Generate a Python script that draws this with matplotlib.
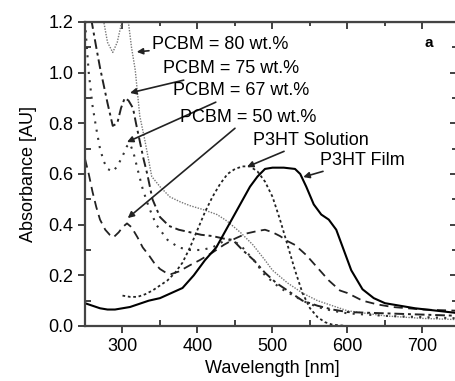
import numpy as np
import matplotlib
matplotlib.use('Agg')
import matplotlib.pyplot as plt
from matplotlib.ticker import MultipleLocator

plt.rcParams['font.family'] = ['Liberation Sans', 'DejaVu Sans']

# P3HT film (solid)
film_x = [250, 260, 270, 280, 290, 300, 310, 320, 335, 350, 365, 380, 395, 410, 425, 440, 455, 470, 480,
          490, 500, 515, 530, 537, 545, 555, 565, 575, 585, 595, 605, 620, 635, 650, 670, 690, 720, 750]
film_y = [0.09, 0.08, 0.07, 0.065, 0.065, 0.07, 0.075, 0.085, 0.10, 0.11, 0.13, 0.15, 0.20, 0.26, 0.31, 0.39,
          0.47, 0.55, 0.59, 0.62, 0.625, 0.625, 0.62, 0.60, 0.55, 0.48, 0.44, 0.42, 0.38, 0.30, 0.22, 0.145,
          0.11, 0.09, 0.08, 0.07, 0.06, 0.05]

# P3HT solution
sol_x = [300, 310, 320, 330, 340, 350, 360, 370, 380, 390, 400, 410, 420, 430, 440, 450, 460, 470, 480,
         490, 500, 510, 520, 530, 540, 550, 560, 570, 580, 600, 650, 700, 750]
sol_y = [0.12, 0.115, 0.115, 0.125, 0.14, 0.16, 0.18, 0.21, 0.25, 0.31, 0.38, 0.45, 0.51, 0.56, 0.60, 0.62,
         0.63, 0.63, 0.61, 0.57, 0.51, 0.42, 0.32, 0.22, 0.13, 0.07, 0.035, 0.015, 0.005, 0.0, 0.0, 0.0, 0.0]

# PCBM = 50 wt.%
p50_x = [250, 255, 260, 265, 270, 277, 283, 288, 295, 300, 306, 312, 320, 327, 335, 342, 350, 358, 365,
         375, 390, 403, 420, 435, 450, 465, 480, 490, 500, 510, 520, 530, 545, 560, 575, 590, 600, 620, 640,
         660, 700, 750]
p50_y = [0.66, 0.60, 0.53, 0.47, 0.42, 0.38, 0.36, 0.35, 0.37, 0.39, 0.405, 0.39, 0.35, 0.31, 0.28, 0.25,
         0.225, 0.21, 0.205, 0.215, 0.24, 0.26, 0.29, 0.32, 0.345, 0.365, 0.375, 0.38, 0.37, 0.355, 0.335,
         0.32, 0.28, 0.23, 0.18, 0.14, 0.13, 0.10, 0.085, 0.075, 0.065, 0.06]

# PCBM = 67 wt.%
p67_x = [250, 255, 260, 265, 270, 275, 280, 287, 293, 300, 306, 310, 315, 320, 327, 335, 345, 360, 375,
         390, 405, 420, 435, 447, 460, 475, 490, 510, 540, 560, 580, 600, 650, 700, 750]
p67_y = [1.2, 1.0, 0.87, 0.78, 0.70, 0.65, 0.62, 0.61, 0.63, 0.67, 0.71, 0.72, 0.68, 0.62, 0.54, 0.47,
         0.40, 0.34, 0.31, 0.30, 0.30, 0.31, 0.335, 0.34, 0.31, 0.26, 0.20, 0.15, 0.10, 0.075, 0.06, 0.05,
         0.04, 0.035, 0.03]

# PCBM = 75 wt.%
p75_x = [250, 254, 259, 265, 270, 275, 280, 287, 293, 298, 303, 308, 314, 318, 323, 328, 333, 340, 350,
         362, 375, 390, 405, 420, 435, 447, 460, 475, 490, 505, 520, 540, 560, 580, 600, 650, 700, 750]
p75_y = [1.4, 1.3, 1.2, 1.1, 1.02, 0.95, 0.88, 0.79, 0.80, 0.86, 0.90, 0.89, 0.86, 0.80, 0.73, 0.66, 0.60,
         0.50, 0.43, 0.395, 0.38, 0.37, 0.36, 0.355, 0.345, 0.34, 0.30, 0.26, 0.21, 0.17, 0.14, 0.10, 0.08,
         0.065, 0.055, 0.05, 0.045, 0.04]

# PCBM = 80 wt.%
p80_x = [272, 280, 287, 293, 299, 303, 307, 312, 317, 323, 330, 339, 350, 363, 377, 390, 407, 426, 439,
         457, 474, 490, 500, 520, 540, 560, 580, 600, 650, 700, 750]
p80_y = [1.25, 1.12, 1.08, 1.12, 1.2, 1.25, 1.22, 1.1, 1.01, 0.83, 0.73, 0.59, 0.55, 0.51, 0.49, 0.475,
         0.46, 0.44, 0.415, 0.37, 0.32, 0.26, 0.22, 0.17, 0.13, 0.10, 0.08, 0.06, 0.04, 0.03, 0.025]

fig = plt.figure(figsize=(4.56, 3.81), dpi=100)
ax = fig.add_axes([85 / 456, 1 - 326 / 381, 375 / 456, 304 / 381])

ax.plot(p80_x, p80_y, color='#777777', lw=1.0, ls=(0, (1, 1)))
ax.plot(p75_x, p75_y, color='#222222', lw=1.4, ls=(0, (5, 2, 1.5, 2)))
ax.plot(p67_x, p67_y, color='#333333', lw=1.5, ls=(0, (1, 3)))
ax.plot(p50_x, p50_y, color='#222222', lw=1.3, ls=(0, (5, 3)))
ax.plot(sol_x, sol_y, color='#222222', lw=1.3, ls=(0, (1.5, 1.5)))
ax.plot(film_x, film_y, color='black', lw=1.5)

ax.set_xlim(250, 750)
ax.set_ylim(0, 1.2)
ax.xaxis.set_major_locator(MultipleLocator(100))
ax.xaxis.set_minor_locator(MultipleLocator(50))
ax.yaxis.set_major_locator(MultipleLocator(0.2))
ax.yaxis.set_minor_locator(MultipleLocator(0.1))
ax.yaxis.set_major_formatter(matplotlib.ticker.FormatStrFormatter('%.1f'))
ax.tick_params(which='major', direction='out', length=5, width=1.3, labelsize=13, color='#333333')
ax.tick_params(which='minor', direction='in', length=4, width=1.3, color='#333333')
for s in ax.spines.values():
    s.set_linewidth(1.6)
    s.set_color('#444444')

# ticks inward on top and right
secx = ax.secondary_xaxis('top')
secx.xaxis.set_major_locator(MultipleLocator(100))
secx.xaxis.set_minor_locator(MultipleLocator(50))
secx.tick_params(which='both', direction='in', labeltop=False, width=1.3, color='#333333')
secx.tick_params(which='major', length=5)
secx.tick_params(which='minor', length=3)
secy = ax.secondary_yaxis('right')
secy.yaxis.set_major_locator(MultipleLocator(0.2))
secy.yaxis.set_minor_locator(MultipleLocator(0.1))
secy.tick_params(which='both', direction='in', labelright=False, width=1.3, color='#333333')
secy.tick_params(which='major', length=7)
secy.tick_params(which='minor', length=6)

ax.set_xlabel('Wavelength [nm]', fontsize=13, labelpad=4)
ax.set_ylabel('Absorbance [AU]', fontsize=13, labelpad=8)

arrow = dict(arrowstyle='-|>', color='#222222', lw=1.2, mutation_scale=9, shrinkA=0, shrinkB=0)
ax.annotate('PCBM = 80 wt.%', xy=(319, 1.082), xytext=(339, 1.113), fontsize=13, va='center',
            arrowprops=arrow)
ax.annotate('PCBM = 75 wt.%', xy=(310, 0.92), xytext=(354, 1.015), fontsize=13, va='center',
            arrowprops=arrow)
ax.annotate('PCBM = 67 wt.%', xy=(306, 0.726), xytext=(367, 0.928), fontsize=13, va='center',
            arrowprops=arrow)
ax.annotate('PCBM = 50 wt.%', xy=(307, 0.426), xytext=(377, 0.825), fontsize=13, va='center',
            arrowprops=arrow)
ax.annotate('P3HT Solution', xy=(466, 0.628), xytext=(474, 0.734), fontsize=13, va='center',
            arrowprops=arrow)
ax.annotate('P3HT Film', xy=(541, 0.588), xytext=(563, 0.655), fontsize=13, va='center',
            arrowprops=arrow)
ax.text(703, 1.117, 'a', fontsize=11, fontweight='bold', va='center')

plt.savefig('out.png', dpi=100)
